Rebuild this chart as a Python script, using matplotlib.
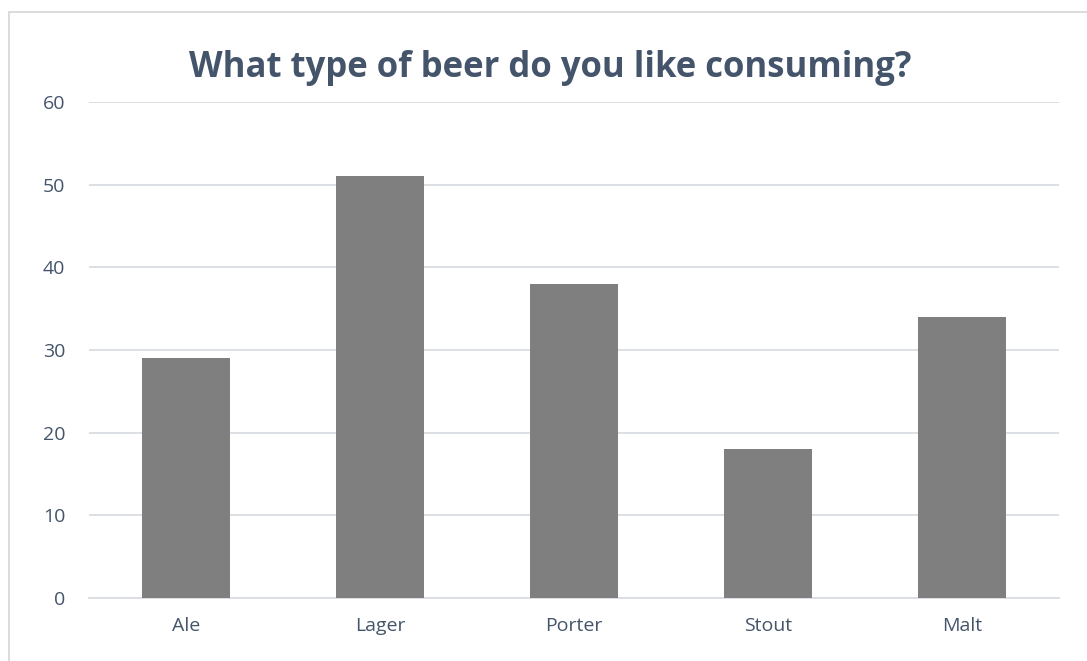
import matplotlib.pyplot as plt
from matplotlib.patches import Rectangle

beer_types = ['Ale', 'Lager', 'Porter', 'Stout', 'Malt']
votes = [29, 51, 38, 18, 34]
y_ticks = [0, 10, 20, 30, 40, 50, 60]

W, H = 1087, 661
text_color = '#44546A'
grid_color = '#D9DDE3'

plt.rcParams['font.family'] = ['Open Sans', 'DejaVu Sans']

fig = plt.figure(figsize=(W / 100, H / 100), dpi=100)
ax = fig.add_axes([89 / W, 1 - 598 / H, (1059 - 89) / W, (598 - 102) / H])

x = range(len(beer_types))
ax.bar(x, votes, width=0.454, color='#7F7F7F', zorder=3)

ax.set_xlim(-0.5, len(beer_types) - 0.5)
ax.set_ylim(0, 60)
ax.set_yticks(y_ticks)
ax.set_xticks(list(x))
ax.set_xticklabels(beer_types)
ax.yaxis.grid(True, color=grid_color, linewidth=1.3, zorder=0)
ax.tick_params(axis='both', length=0, labelsize=14, colors=text_color)
ax.tick_params(axis='y', pad=17)
ax.tick_params(axis='x', pad=14)
for side in ['top', 'right', 'left']:
    ax.spines[side].set_visible(False)
ax.spines['bottom'].set_color(grid_color)
ax.spines['bottom'].set_linewidth(1.3)

fig.text(550 / W, 1 - 77 / H, 'What type of beer do you like consuming?',
         ha='center', va='baseline', fontsize=25, fontweight='bold', color=text_color)

# chart area frame, running off the right and bottom edges
fig.patches.append(Rectangle((9 / W, -0.1), 1.2, 1 - 12 / H + 0.1,
                             transform=fig.transFigure, fill=False,
                             edgecolor='#D9D9D9', linewidth=1.3))

fig.savefig('out.png', dpi=100)
